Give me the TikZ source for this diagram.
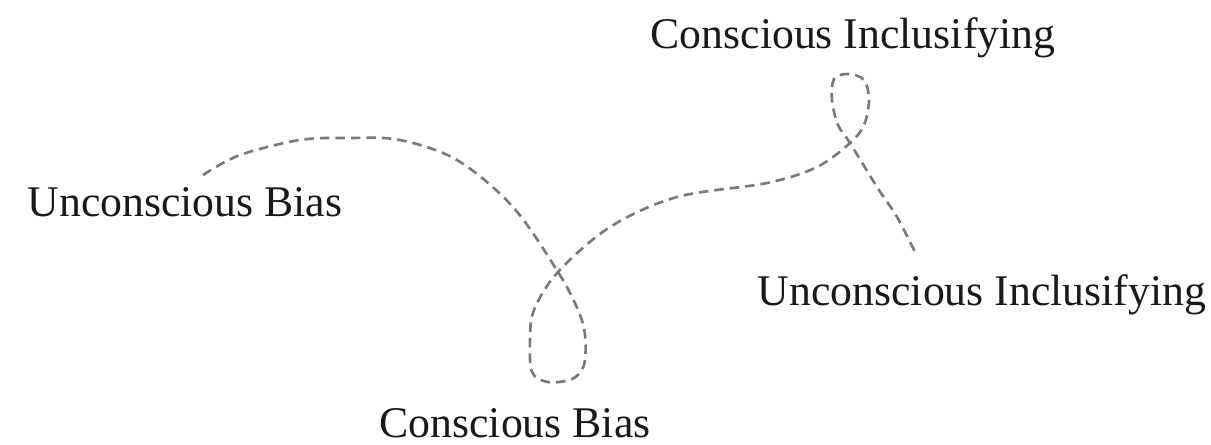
\documentclass[tikz,border=0pt]{standalone}
\usepackage{fontspec}
\setmainfont{Liberation Serif}

\begin{document}
\begin{tikzpicture}[
    term/.style={
        font=\fontsize{24.9}{30}\selectfont,
        inner sep=0pt,
        anchor=base,
        text=black!90
    },
    path/.style={
        draw=gray!95!black,
        line width=1.5pt,
        dash pattern=on 0.19cm off 0.12cm
    }
]
\useasboundingbox (0,0) rectangle (24.22,8.88);

\node[term] (ubias) at (3.70,4.56) {Unconscious Bias};
\node[term] (cincl) at (17.06,7.92) {Conscious Inclusifying};
\node[term] (uincl) at (19.64,2.78) {Unconscious Inclusifying};
\node[term] (cbias) at (10.30,0.14) {Conscious Bias};

% ends of the dashed path, just above the two outer terms
\coordinate (from) at (4.06,5.38);
\coordinate (to) at (18.30,3.84);

\draw[path] plot[smooth, tension=0.55] coordinates {
    (from) (4.80,5.78) (6.00,6.08) (7.00,6.12) (8.00,6.08)
    (9.14,5.68) (10.26,4.74) (11.16,3.44) (11.56,2.68)
    (11.70,2.18) (11.68,1.58) (11.44,1.30) (10.96,1.24)
    (10.64,1.44) (10.60,2.08) (10.68,2.68) (11.16,3.44)
    (12.20,4.34) (13.54,4.94) (15.34,5.22) (16.34,5.54)
    (17.00,6.02) (17.28,6.38) (17.38,6.88) (17.28,7.28)
    (16.96,7.40) (16.68,7.30) (16.64,6.88) (16.76,6.38)
    (17.00,6.02) (17.54,5.14) (17.94,4.54) (to)
};

\end{tikzpicture}
\end{document}
